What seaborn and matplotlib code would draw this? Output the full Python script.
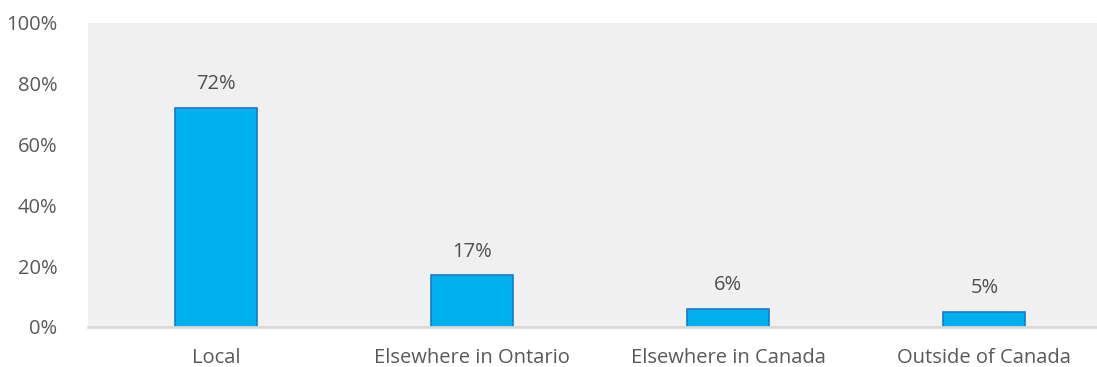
import pandas as pd
import seaborn as sns
import matplotlib
import matplotlib.pyplot as plt

matplotlib.use('Agg')

# Chart data
categories = ["Local", "Elsewhere in Ontario", "Elsewhere in Canada", "Outside of Canada"]
shares = [72, 17, 6, 5]
y_ticks = [0, 20, 40, 60, 80, 100]

df = pd.DataFrame({"category": categories, "share": shares})

sns.set_style("white")
plt.rcParams['font.family'] = ['Open Sans', 'DejaVu Sans']

text_color = "#595959"

fig = plt.figure(figsize=(10.97, 3.67), dpi=100)
ax = fig.add_axes([88 / 1097, 40 / 367, 1 - 88 / 1097, 304 / 367])
ax.set_facecolor("#F0F0F0")

sns.barplot(data=df, x="category", y="share", color="#00B0F0",
            width=0.32, edgecolor="#1F78C8", linewidth=1.2, saturation=1, ax=ax)

# Value labels above bars
for i, v in enumerate(shares):
    ax.text(i, v + 4.5, f"{v}%", ha="center", va="bottom", fontsize=14.5, color="#505050")

ax.set_ylim(0, 100)
ax.set_xlim(-0.5, 3.44)
ax.set_yticks(y_ticks)
ax.set_yticklabels([f"{t}%" for t in y_ticks])
ax.set_xlabel("")
ax.set_ylabel("")
ax.tick_params(axis="both", length=0, labelsize=14.5, labelcolor=text_color)
ax.tick_params(axis="y", pad=22)
ax.tick_params(axis="x", pad=15)

for side in ["top", "right", "left"]:
    ax.spines[side].set_visible(False)
ax.spines["bottom"].set_color("#D9D9D9")
ax.spines["bottom"].set_linewidth(2)

plt.savefig("out.png", dpi=100)
plt.close()
